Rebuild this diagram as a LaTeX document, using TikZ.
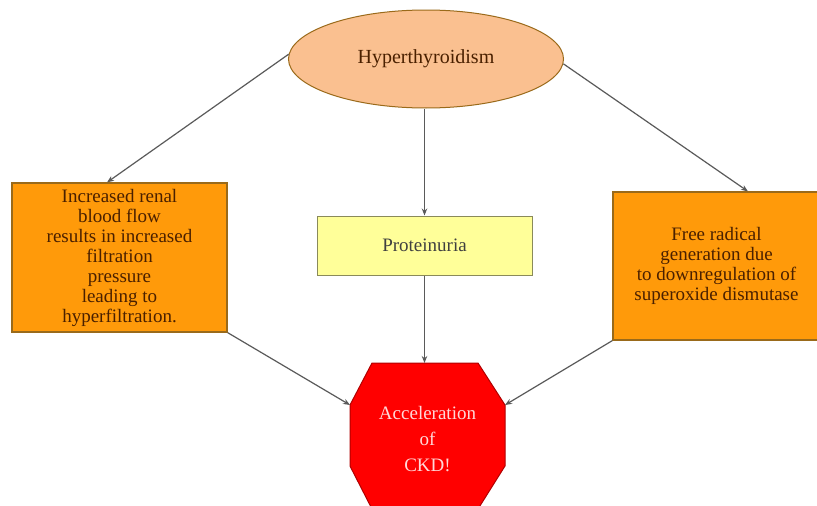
\documentclass[tikz,border=0pt]{standalone}
\usepackage{fontspec}
\setmainfont{Liberation Serif}
\usetikzlibrary{arrows.meta,shapes.geometric}
\definecolor{peach}{HTML}{FAC090}
\definecolor{orangefill}{HTML}{FF9A0A}
\definecolor{orangeedge}{HTML}{9A6A1A}
\definecolor{yellowfill}{HTML}{FFFF99}
\definecolor{yellowedge}{HTML}{8A8A5A}
\definecolor{redfill}{HTML}{FF0000}
\definecolor{rededge}{HTML}{B00000}
\definecolor{browntext}{HTML}{4A2000}
\definecolor{pinktext}{HTML}{FFD8D8}
\definecolor{linegrey}{HTML}{5A5A5A}
\begin{document}
\begin{tikzpicture}[x=1pt,y=-1pt,
  oval/.style={ellipse, draw=orangeedge, line width=1pt, fill=peach, inner sep=0pt,
    minimum width=275pt, minimum height=98pt, text=browntext,
    font=\fontsize{20}{22}\selectfont},
  orangebox/.style={rectangle, draw=orangeedge, line width=1.2pt, fill=orangefill, inner sep=0pt,
    align=center, text=browntext, font=\fontsize{19}{20}\selectfont},
  yellowbox/.style={rectangle, draw=yellowedge, line width=1pt, fill=yellowfill, inner sep=0pt,
    minimum width=215pt, minimum height=59pt, text=black!75,
    font=\fontsize{19}{20}\selectfont},
  octo/.style={draw=rededge, line width=1pt, fill=redfill},
  octtext/.style={align=center, text=pinktext, inner sep=0pt,
    font=\fontsize{19}{26}\selectfont},
  arr/.style={draw=linegrey, line width=1.2pt, -{Stealth[length=7pt,width=5.5pt]}}
]
\useasboundingbox (0,0) rectangle (817,506);
\fill[white] (0,0) rectangle (817,506);

\node[oval] (hyp) at (426,59) {Hyperthyroidism};

\node[orangebox, minimum width=215pt, minimum height=149pt] (renal) at (119.5,257.5)
  {Increased renal\\blood flow\\results in increased\\filtration\\pressure\\leading to\\hyperfiltration.};

\node[yellowbox] (prot) at (424.5,245.5) {Proteinuria};

\node[orangebox, minimum width=207pt, minimum height=148pt] (rad) at (716.5,266)
  {Free radical\\generation due\\to downregulation of\\superoxide dismutase};

\coordinate (o1) at (372,363);
\coordinate (o2) at (478,363);
\coordinate (o3) at (505,405);
\coordinate (o4) at (505,466);
\coordinate (o5) at (478,509);
\coordinate (o6) at (372,509);
\coordinate (o7) at (350,466);
\coordinate (o8) at (350,405);
\draw[octo] (o1) -- (o2) -- (o3) -- (o4) -- (o5) -- (o6) -- (o7) -- (o8) -- cycle;
\node[octtext] (ckd) at (427.5,439) {Acceleration\\of\\CKD!};

\draw[arr] (hyp.178) -- ([xshift=-12.5pt]renal.north);
\draw[arr] (hyp.-2) -- ([xshift=31.5pt]rad.north);
\draw[arr] (prot.north |- hyp.south) -- (prot.north);
\draw[arr] (prot.south) -- (prot.south |- o1);
\draw[arr] (renal.south east) -- (o8);
\draw[arr] (rad.south west) -- (o3);
\end{tikzpicture}
\end{document}
